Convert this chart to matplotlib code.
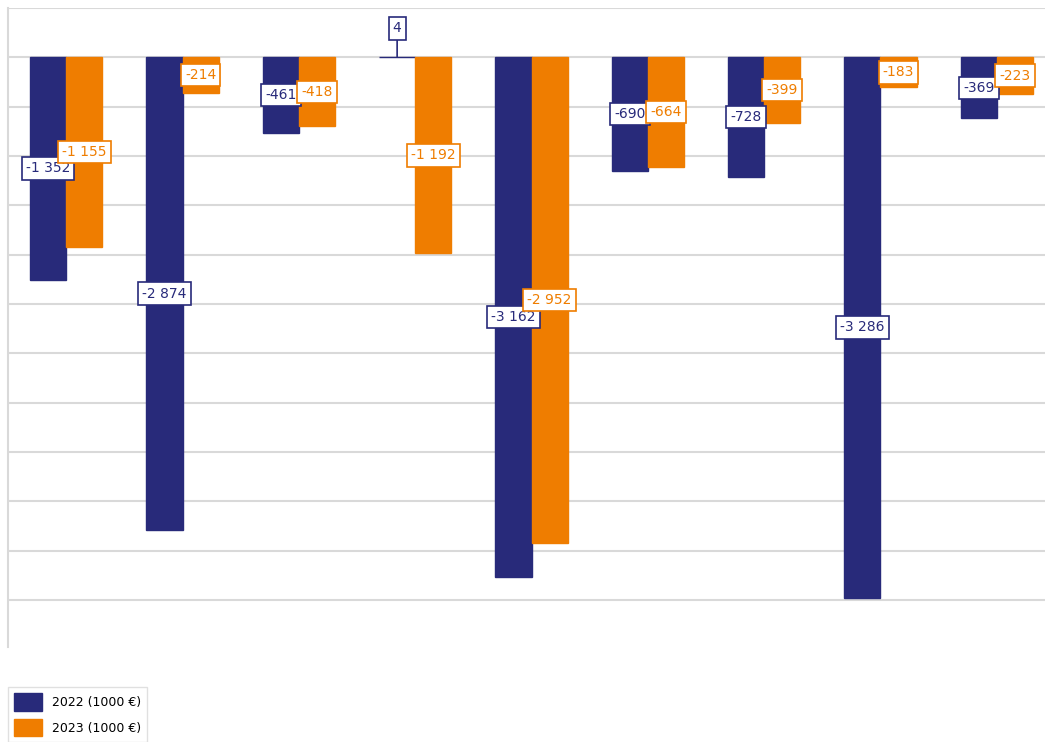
import matplotlib
matplotlib.use("Agg")
import matplotlib.pyplot as plt
import numpy as np

# values in 1000 EUR
categories = ["A", "B", "C", "D", "E", "F", "G", "H", "I"]
vals_2022 = [-1352, -2874, -461, 4, -3162, -690, -728, -3286, -369]
vals_2023 = [-1155, -214, -418, -1192, -2952, -664, -399, -183, -223]
series_names = ["2022 (1000 €)", "2023 (1000 €)"]

blue = "#282a7a"
orange = "#ef7d00"
grid_col = "#d9d9d9"


def fmt(v):
    return f"{v:,}".replace(",", " ")


fig = plt.figure(figsize=(10.45, 7.42), dpi=100, facecolor="w")
ax = fig.add_axes([8 / 1045, 95 / 742, 1047 / 1045, 639 / 742])

x = np.arange(len(categories))
w = 0.31

ax.set_yticks(np.arange(-3300, 301, 300))
ax.yaxis.grid(True, color=grid_col, linewidth=1.5)
ax.set_axisbelow(True)
ax.set_xlim(-0.5, len(categories) - 0.5)
ax.set_ylim(-3586, 300)
ax.tick_params(left=False, bottom=False, labelleft=False, labelbottom=False)
for s in ["top", "right", "bottom"]:
    ax.spines[s].set_visible(False)
ax.spines["left"].set_color(grid_col)
ax.spines["left"].set_linewidth(1.5)

bars1 = ax.bar(x - w / 2, vals_2022, w, color=blue, edgecolor=blue, linewidth=1,
               label=series_names[0], zorder=2)
bars2 = ax.bar(x + w / 2, vals_2023, w, color=orange, edgecolor=orange, linewidth=1,
               label=series_names[1], zorder=2)


def put_labels(xs, vals, col, z):
    for xi, v in zip(xs, vals):
        box = dict(boxstyle="square,pad=0.3", fc="white", ec=col, lw=1.2)
        if abs(v) < 50:
            ax.annotate(fmt(v), xy=(xi, v), xytext=(xi, 176), ha="center", va="center",
                        fontsize=10, color=col, bbox=box, zorder=z,
                        arrowprops=dict(arrowstyle="-", color=col, lw=1.2,
                                        shrinkA=0, shrinkB=0))
        else:
            ax.text(xi, v / 2, fmt(v), ha="center", va="center", fontsize=10,
                    color=col, bbox=box, zorder=z)


put_labels(x - w / 2, vals_2022, blue, 5)
put_labels(x + w / 2, vals_2023, orange, 6)

fig.legend(handles=[bars1, bars2], labels=series_names, loc="lower left",
           bbox_to_anchor=(8 / 1045, 0), fontsize=9, frameon=True,
           fancybox=False, edgecolor=grid_col, handlelength=2.25, handleheight=1.8,
           borderpad=0.45, labelspacing=0.65, handletextpad=0.85, borderaxespad=0)

fig.savefig("out.png", dpi=100, facecolor="w")
